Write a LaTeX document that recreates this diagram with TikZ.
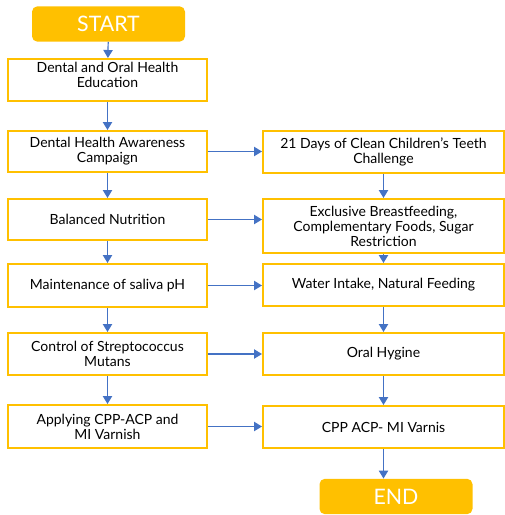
\documentclass[tikz,border=0pt]{standalone}
\usepackage{fontspec}
\setmainfont{Lato}
\usepackage{xcolor}
\usetikzlibrary{positioning, arrows.meta}

\definecolor{boxgold}{HTML}{FFC000}
\definecolor{linkblue}{HTML}{4472C4}

\begin{document}
\begin{tikzpicture}[x=0.75pt, y=-0.75pt,
    stepbox/.style={draw=boxgold, line width=1.5pt, fill=white, align=center,
        minimum width=149.25pt, minimum height=31.5pt, inner sep=2pt,
        font=\fontsize{10.5}{11.2}\selectfont},
    rightbox/.style={stepbox, minimum width=180.75pt},
    endbox/.style={fill=boxgold, rounded corners=4pt, text=white,
        minimum width=114.75pt, minimum height=26.5pt,
        font=\fontsize{16}{18}\selectfont},
    link/.style={-{Triangle[length=6pt, width=7pt]}, line width=0.9pt, linkblue}]

    % page frame
    \useasboundingbox (0,0) rectangle (505,515);

    % start and end
    \node[endbox] (start) at (108.5, 24) {START};
    \node[endbox] (finish) at (396, 496.5) {END};

    % left column
    \node[stepbox] (edu) at (107.5, 80) {};
    \node[anchor=north, align=center, font=\fontsize{10.5}{11.2}\selectfont]
        (edutext) at ([yshift=0.5pt]edu.north) {Dental and Oral Health\\Education};
    \node[stepbox, minimum height=30.75pt] (campaign) at (107.5, 151.5) {Dental Health Awareness\\Campaign};
    \node[stepbox, minimum height=30.75pt] (nutrition) at (107.5, 219.5) {Balanced Nutrition};
    \node[stepbox, minimum height=32.25pt] (saliva) at (107.5, 285.5) {Maintenance of saliva pH};
    \node[stepbox] (mutans) at (107.5, 354) {Control of Streptococcus\\Mutans};
    \node[stepbox, minimum height=32.25pt] (applying) at (107.5, 426.5) {Applying CPP-ACP and\\MI Varnish};

    % right column
    \node[rightbox] (challenge) at (383.5, 152) {21 Days of Clean Children's Teeth\\Challenge};
    \node[rightbox, minimum height=40.5pt] (feeding) at (383.5, 226) {Exclusive Breastfeeding,\\Complementary Foods, Sugar\\Restriction};
    \node[rightbox] (water) at (383.5, 285) {Water Intake, Natural Feeding};
    \node[rightbox] (hygine) at (383.5, 354) {Oral Hygine};
    \node[rightbox] (varnis) at (383.5, 427) {CPP ACP- MI Varnis};

    % arrows down the left
    \draw[link] (start) -- (edu);
    \draw[link] (edu) -- (campaign);
    \draw[link] (campaign) -- (nutrition);
    \draw[link] (nutrition) -- (saliva);
    \draw[link] (saliva) -- (mutans);
    \draw[link] (mutans) -- (applying);

    % arrows down the right
    \draw[link] (challenge) -- (feeding);
    \draw[link] (feeding) -- (water);
    \draw[link] (water) -- (hygine);
    \draw[link] (hygine) -- (varnis);
    \draw[link] (varnis.south) -- (varnis.south |- finish.north);

    % arrows across
    \draw[link] (campaign.east) -- (campaign.east -| challenge.west);
    \draw[link] (nutrition.east) -- (nutrition.east -| feeding.west);
    \draw[link] (saliva.east) -- (saliva.east -| water.west);
    \draw[link] (mutans.east) -- (mutans.east -| hygine.west);
    \draw[link] (applying.east) -- (applying.east -| varnis.west);
\end{tikzpicture}
\end{document}
